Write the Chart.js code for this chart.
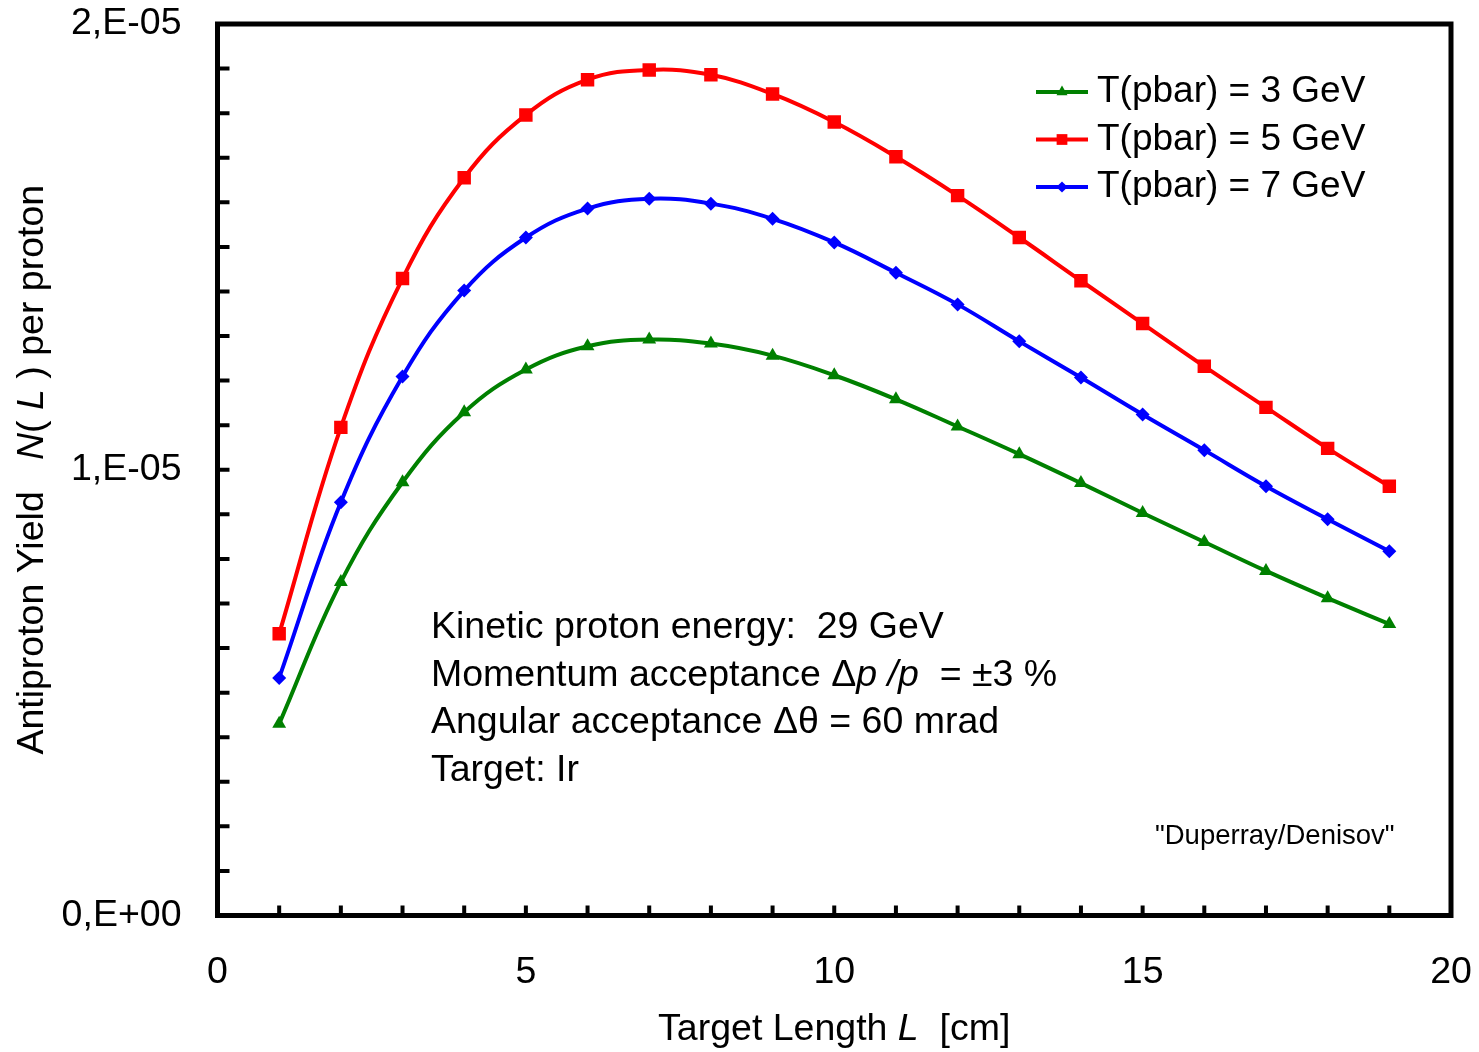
<!DOCTYPE html>
<html><head><meta charset="utf-8">
<script src="https://cdn.jsdelivr.net/npm/chart.js@4.4.0/dist/chart.umd.min.js"></script>
<style>html,body{margin:0;padding:0;background:#fff;}</style>
</head><body>
<canvas id="c" width="1479" height="1052"></canvas>
<script>
// ---- data ----
const targetLength = [1, 2, 3, 4, 5, 6, 7, 8, 9, 10, 11, 12, 13, 14, 15, 16, 17, 18, 19];
const yield3GeV = [4.30e-6, 7.48e-6, 9.72e-6, 11.29e-6, 12.25e-6, 12.77e-6, 12.92e-6, 12.83e-6, 12.56e-6, 12.12e-6, 11.58e-6, 10.97e-6, 10.35e-6, 9.70e-6, 9.03e-6, 8.38e-6, 7.73e-6, 7.12e-6, 6.54e-6];
const yield5GeV = [6.32e-6, 10.95e-6, 14.29e-6, 16.55e-6, 17.96e-6, 18.75e-6, 18.97e-6, 18.86e-6, 18.43e-6, 17.80e-6, 17.02e-6, 16.15e-6, 15.21e-6, 14.24e-6, 13.28e-6, 12.32e-6, 11.40e-6, 10.48e-6, 9.63e-6];
const yield7GeV = [5.33e-6, 9.27e-6, 12.09e-6, 14.02e-6, 15.21e-6, 15.86e-6, 16.08e-6, 15.97e-6, 15.63e-6, 15.10e-6, 14.42e-6, 13.71e-6, 12.88e-6, 12.07e-6, 11.24e-6, 10.44e-6, 9.63e-6, 8.89e-6, 8.17e-6];
const seriesLabels = ['T(pbar) = 3 GeV', 'T(pbar) = 5 GeV', 'T(pbar) = 7 GeV'];
const yTickValues = [0, 1e-5, 2e-5];
const yTickLabels = ['0,E+00', '1,E-05', '2,E-05'];
const xTickLabels = ['0', '5', '10', '15', '20'];
const noteLines = [
  [['Kinetic proton energy:  29 GeV', false]],
  [['Momentum acceptance \u0394', false], ['p', true], [' ', false], ['/p', true], ['  = \u00B13 %', false]],
  [['Angular acceptance \u0394\u03B8 = 60 mrad', false]],
  [['Target: Ir', false]]
];
const sourceNote = '"Duperray/Denisov"';
const xTitle = [['Target Length ', false], ['L', true], ['  [cm]', false]];
const yTitle = [['Antiproton Yield   ', false], ['N', true], ['( ', false], ['L', true], [' ) per proton', false]];

const FONT = '"Liberation Sans", Arial, Helvetica, sans-serif';
const FS = 37.5;
const colors = ['#008000', '#FF0000', '#0000FF'];
const styles = ['triangle', 'rect', 'rectRot'];
const radii = [8, 9.5, 7];

function mk(ys) { return targetLength.map((x, i) => ({x: x, y: ys[i]})); }
const series = [yield3GeV, yield5GeV, yield7GeV];

const datasets = series.map((ys, i) => ({
  label: seriesLabels[i],
  data: mk(ys),
  borderColor: colors[i],
  backgroundColor: colors[i],
  borderWidth: 4,
  pointStyle: styles[i],
  pointRadius: radii[i],
  pointBorderWidth: 0,
  pointBackgroundColor: colors[i],
  tension: 0.4,
  fill: false
}));

function rich(ctx, segs, x, y, size, align) {
  let total = 0;
  const ws = segs.map(s => { ctx.font = (s[1] ? 'italic ' : '') + size + 'px ' + FONT; const w = ctx.measureText(s[0]).width; total += w; return w; });
  let cx = align === 'center' ? x - total / 2 : x;
  ctx.textAlign = 'left';
  ctx.textBaseline = 'middle';
  segs.forEach((s, i) => { ctx.font = (s[1] ? 'italic ' : '') + size + 'px ' + FONT; ctx.fillText(s[0], cx, y); cx += ws[i]; });
}

function marker(ctx, style, x, y, r, color) {
  ctx.fillStyle = color;
  ctx.beginPath();
  if (style === 'rect') { const s = r * Math.SQRT1_2; ctx.rect(x - s, y - s, 2 * s, 2 * s); }
  else if (style === 'rectRot') { ctx.moveTo(x, y - r); ctx.lineTo(x + r, y); ctx.lineTo(x, y + r); ctx.lineTo(x - r, y); ctx.closePath(); }
  else { ctx.moveTo(x, y - r); ctx.lineTo(x + r * 0.866, y + r * 0.5); ctx.lineTo(x - r * 0.866, y + r * 0.5); ctx.closePath(); }
  ctx.fill();
}

const decor = {
  id: 'decor',
  afterDraw(chart) {
    const ctx = chart.ctx, a = chart.chartArea, xs = chart.scales.x, ys = chart.scales.y;
    ctx.save();
    ctx.strokeStyle = '#000';
    // minor ticks (inward)
    ctx.lineWidth = 4;
    ctx.beginPath();
    for (let k = 1; k < 20; k++) {
      const py = ys.getPixelForValue(k * 1e-6);
      ctx.moveTo(a.left, py); ctx.lineTo(a.left + 12, py);
      const px = xs.getPixelForValue(k);
      ctx.moveTo(px, a.bottom); ctx.lineTo(px, a.bottom - 10);
    }
    ctx.stroke();
    // frame
    ctx.lineWidth = 5;
    ctx.strokeRect(a.left, a.top, a.right - a.left, a.bottom - a.top);
    // legend
    chart.data.datasets.forEach((d, i) => {
      const ly = 92 + i * 47.5;
      ctx.strokeStyle = d.borderColor; ctx.lineWidth = 4;
      ctx.beginPath(); ctx.moveTo(1036, ly); ctx.lineTo(1088, ly); ctx.stroke();
      marker(ctx, d.pointStyle, 1062, ly, d.pointRadius * 0.8, d.borderColor);
      ctx.fillStyle = '#000';
      rich(ctx, [[d.label, false]], 1097, ly, 37, 'left');
    });
    // notes
    ctx.fillStyle = '#000';
    noteLines.forEach((segs, i) => rich(ctx, segs, 431, 628 + i * 47.5, FS, 'left'));
    rich(ctx, [[sourceNote, false]], 1155, 836, 27.5, 'left');
    // axis titles
    rich(ctx, xTitle, (a.left + a.right) / 2, 1030, FS, 'center');
    ctx.save();
    ctx.translate(33, (a.top + a.bottom) / 2);
    ctx.rotate(-Math.PI / 2);
    rich(ctx, yTitle, 0, 0, FS, 'center');
    ctx.restore();
    ctx.restore();
  }
};

function fixPad(s) { s.paddingLeft = 0; s.paddingRight = 0; s.paddingTop = 0; s.paddingBottom = 0; }

new Chart(document.getElementById('c'), {
  type: 'line',
  data: { datasets: datasets },
  options: {
    responsive: false,
    animation: false,
    devicePixelRatio: 1,
    layout: { padding: { top: 24, right: 28, left: 0, bottom: 0 } },
    plugins: { legend: { display: false }, tooltip: { enabled: false } },
    scales: {
      x: {
        type: 'linear', min: 0, max: 20,
        grid: { display: false }, border: { display: false },
        ticks: { stepSize: 5, padding: 27, color: '#000', font: { family: FONT, size: FS },
          callback: (v) => xTickLabels[Math.round(v / 5)] },
        afterFit(s) { s.height = 136.5; fixPad(s); }
      },
      y: {
        type: 'linear', min: 0, max: 2e-5,
        grid: { display: false }, border: { display: false },
        ticks: { stepSize: 1e-5, padding: 28, color: '#000', font: { family: FONT, size: FS },
          callback: (v) => yTickLabels[yTickValues.findIndex(t => Math.abs(t - v) < 1e-9)] },
        afterFit(s) { s.width = 217.5; fixPad(s); }
      }
    }
  },
  plugins: [decor]
});
</script>
</body></html>
